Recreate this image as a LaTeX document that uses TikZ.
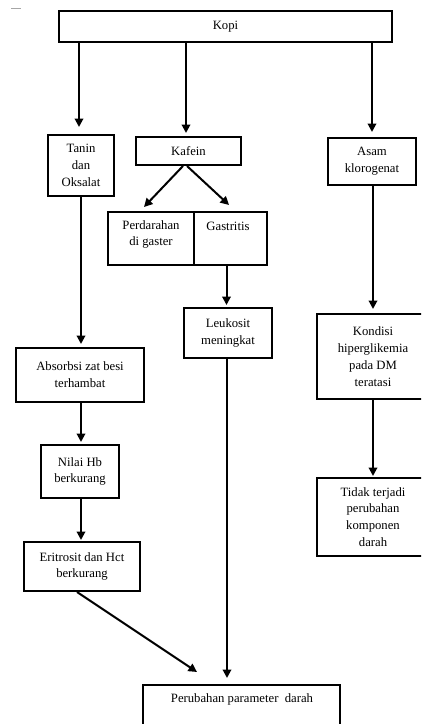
\documentclass[tikz,border=0pt]{standalone}
\usepackage{fontspec}
\setmainfont{Liberation Serif}
\usetikzlibrary{arrows.meta}
\begin{document}
\begin{tikzpicture}[x=1pt,y=-1pt,
  box/.style={draw, line width=2pt, inner sep=0pt, align=center, font=\fontsize{12.7}{16.8}\selectfont},
  txt/.style={inner sep=0pt, align=center, font=\fontsize{12.7}{16.8}\selectfont},
  arr/.style={line width=2pt, -{Triangle[width=8.5pt,length=8.5pt]}}]
\useasboundingbox (0,0) rectangle (421,724);
\clip (0,0) rectangle (421,724);
\fill[white] (0,0) rectangle (421,724);
\draw[gray!70, line width=0.8pt] (11,8) -- (21,8);

% boxes
\node[box, minimum width=333pt, minimum height=31pt] (kopi) at (225.5,26.5) {Kopi};
\node[box, minimum width=66pt, minimum height=61pt] (tanin) at (81,165.5) {Tanin\\dan\\Oksalat};
\node[box, minimum width=105pt, minimum height=28pt] (kafein) at (188.5,151) {Kafein};
\node[box, minimum width=88pt, minimum height=47pt] (asam) at (372,161.5) {Asam\\klorogenat};
\node[box, minimum width=86pt, minimum height=53pt] (perd) at (151,238.5) {};
\node[box, minimum width=73pt, minimum height=53pt] (gast) at (230.5,238.5) {};
\node[txt] (tperd) at (151,234.5) {Perdarahan\\di gaster};
\node[txt] (tgast) at (228,226) {Gastritis};
\node[box, minimum width=88pt, minimum height=50pt] (leuk) at (228,333) {Leukosit\\meningkat};
\node[box, minimum width=128pt, minimum height=54pt] (absorb) at (80,375) {Absorbsi zat besi\\terhambat};
\node[box, minimum width=78pt, minimum height=53pt] (nilai) at (80,471.5) {Nilai Hb\\berkurang};
\node[box, minimum width=116pt, minimum height=49pt] (eritro) at (82,566.5) {Eritrosit dan Hct\\berkurang};
\node[box, minimum width=112pt, minimum height=85pt] (kondisi) at (373,356.5) {Kondisi\\hiperglikemia\\pada DM\\teratasi};
\node[box, minimum width=112pt, minimum height=78pt] (tidak) at (373,517) {Tidak terjadi\\perubahan\\komponen\\darah};
\node[box, minimum width=197pt, minimum height=60pt] (perub) at (241.5,715) {};
\node[txt] (tperub) at (242,699) {Perubahan parameter\ \ darah};

% connectors
\draw[arr, shorten >=7pt] ([xshift=-2pt]kopi.south -| tanin.north) -- ([xshift=-2pt]tanin.north);
\draw[arr, shorten >=3pt] ([xshift=-2.5pt]kopi.south -| kafein.north) -- ([xshift=-2.5pt]kafein.north);
\draw[arr, shorten >=5pt] (kopi.south -| asam.north) -- (asam.north);
\draw[arr] ([xshift=-5.5pt]kafein.south) -- ([xshift=-7pt,yshift=4pt]perd.north);
\draw[arr] ([xshift=-1.5pt]kafein.south) -- ([xshift=-1.5pt,yshift=6pt]gast.north);
\draw[arr, shorten >=2pt] ([xshift=-4pt]gast.south) -- ([xshift=-4pt]gast.south |- leuk.north);
\draw[arr, shorten >=3pt] (tanin.south) -- (tanin.south |- absorb.north);
\draw[arr, shorten >=2pt] ([xshift=1pt]absorb.south) -- ([xshift=1pt]nilai.north);
\draw[arr, shorten >=1pt] ([xshift=1pt]nilai.south) -- ([xshift=1pt]nilai.south |- eritro.north);
\draw[arr] ([xshift=-5pt]eritro.south) -- ([xshift=-44.5pt,yshift=12pt]perub.north);
\draw[arr, shorten >=6pt] ([xshift=-1pt]leuk.south) -- ([xshift=-1pt]leuk.south |- perub.north);
\draw[arr, shorten >=4pt] ([xshift=1pt]asam.south) -- ([xshift=1pt]asam.south |- kondisi.north);
\draw[arr, shorten >=1pt] (kondisi.south) -- (tidak.north);
\end{tikzpicture}
\end{document}
